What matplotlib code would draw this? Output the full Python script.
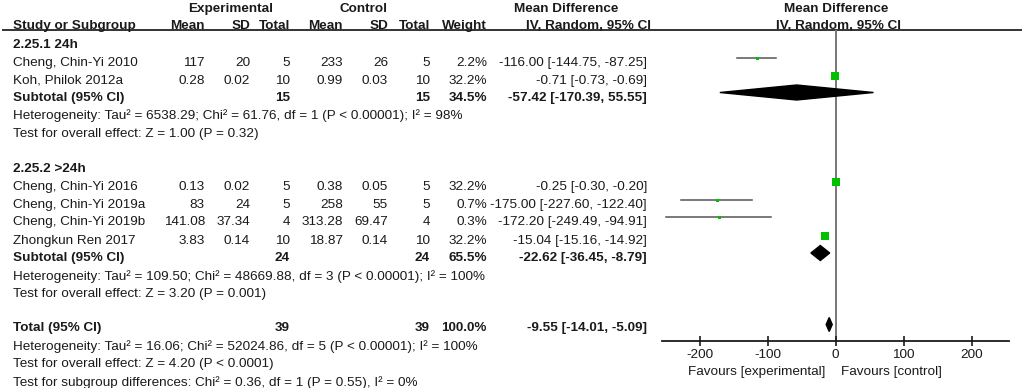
import matplotlib
matplotlib.use("Agg")
import matplotlib.pyplot as plt
from matplotlib.patches import Polygon

plt.rcParams["font.family"] = ["Liberation Sans", "DejaVu Sans"]

# ── data ──────────────────────────────────────────────────────────────────────
studies = ["Cheng, Chin-Yi 2010", "Koh, Philok 2012a",
           "Cheng, Chin-Yi 2016", "Cheng, Chin-Yi 2019a",
           "Cheng, Chin-Yi 2019b", "Zhongkun Ren 2017"]
exp_mean = ["117", "0.28", "0.13", "83", "141.08", "3.83"]
exp_sd = ["20", "0.02", "0.02", "24", "37.34", "0.14"]
exp_n = [5, 10, 5, 5, 4, 10]
ctl_mean = ["233", "0.99", "0.38", "258", "313.28", "18.87"]
ctl_sd = ["26", "0.03", "0.05", "55", "69.47", "0.14"]
ctl_n = [5, 10, 5, 5, 4, 10]
weight = [2.2, 32.2, 32.2, 0.7, 0.3, 32.2]
md = [-116.00, -0.71, -0.25, -175.00, -172.20, -15.04]
md_lo = [-144.75, -0.73, -0.30, -227.60, -249.49, -15.16]
md_hi = [-87.25, -0.69, -0.20, -122.40, -94.91, -14.92]

group_titles = ["2.25.1 24h", "2.25.2 >24h"]
sub_exp_n = [15, 24]
sub_ctl_n = [15, 24]
sub_weight = [34.5, 65.5]
sub_md = [-57.42, -22.62]
sub_lo = [-170.39, -36.45]
sub_hi = [55.55, -8.79]
sub_het = ["Heterogeneity: Tau² = 6538.29; Chi² = 61.76, df = 1 (P < 0.00001); I² = 98%",
           "Heterogeneity: Tau² = 109.50; Chi² = 48669.88, df = 3 (P < 0.00001); I² = 100%"]
sub_test = ["Test for overall effect: Z = 1.00 (P = 0.32)",
            "Test for overall effect: Z = 3.20 (P = 0.001)"]

tot_exp_n, tot_ctl_n, tot_weight = 39, 39, 100.0
tot_md, tot_lo, tot_hi = -9.55, -14.01, -5.09
tot_notes = ["Heterogeneity: Tau² = 16.06; Chi² = 52024.86, df = 5 (P < 0.00001); I² = 100%",
             "Test for overall effect: Z = 4.20 (P < 0.0001)",
             "Test for subgroup differences: Chi² = 0.36, df = 1 (P = 0.55), I² = 0%"]

xticks = [-200, -100, 0, 100, 200]
favours = ["Favours [experimental]", "Favours [control]"]

# ── layout (pixels) ───────────────────────────────────────────────────────────
W, H = 1024, 388
FS = 9.7
INK = "#1a1a1a"
GREEN = "#00c000"
COLS = [205, 250, 290, 343, 388, 430, 487]   # right edges of numeric columns
MD_X = 647
STUDY_Y = [61, 79, 185.5, 203, 220.5, 239.5]
TITLE_Y = [43, 167.5]
SUB_Y = [96, 256.5]
HET_Y = [114.5, 275]
TEST_Y = [132.5, 292.5]
TOT_Y = 326.5
TOT_NOTE_Y = [345.5, 362.5, 381]
MARK_DY = -3.5
AX_L, AX_R, AX_T, AX_B = 662.3, 1009.1, 30, 341


def fmt_ci(m, lo, hi):
    return f"{m:.2f} [{lo:.2f}, {hi:.2f}]"


fig = plt.figure(figsize=(W / 100, H / 100), dpi=100)
tab = fig.add_axes([0, 0, 1, 1])
tab.set_xlim(0, W)
tab.set_ylim(H, 0)
tab.axis("off")


def txt(x, y, s, ha="left", bold=False):
    tab.text(x, y + 4.6, s, ha=ha, va="baseline", fontsize=FS, color=INK,
             fontweight="bold" if bold else "normal")


# headers
for x, s in [(231, "Experimental"), (364, "Control"),
             (566, "Mean Difference"), (836, "Mean Difference")]:
    txt(x, 7, s, ha="center", bold=True)
txt(13, 24, "Study or Subgroup", bold=True)
for x, s in zip(COLS, ["Mean", "SD", "Total", "Mean", "SD", "Total", "Weight"]):
    txt(x, 24, s, ha="right", bold=True)
txt(588, 24, "IV, Random, 95% CI", ha="center", bold=True)
txt(838, 24, "IV, Random, 95% CI", ha="center", bold=True)
tab.plot([3, 1021], [30, 30], color="#333333", lw=1.4)

# forest axes, y in pixel units
fa = fig.add_axes([AX_L / W, 1 - AX_B / H, (AX_R - AX_L) / W, (AX_B - AX_T) / H])
fa.set_xlim(-255, 255)
fa.set_ylim(AX_B, AX_T)
fa.patch.set_alpha(0)
for side in ["top", "left", "right"]:
    fa.spines[side].set_visible(False)
fa.spines["bottom"].set_color(INK)
fa.spines["bottom"].set_linewidth(1.3)
fa.set_yticks([])
fa.set_xticks(xticks)
fa.set_xticklabels([str(t) for t in xticks])
fa.tick_params(axis="x", direction="inout", length=7, width=1.2,
               labelsize=FS, pad=2, colors=INK)
fa.axvline(0, color="#777777", lw=1.4, zorder=1)


def diamond(est, lo, hi, y, h):
    fa.add_patch(Polygon([(lo, y), (est, y - h / 2), (hi, y), (est, y + h / 2)],
                         closed=True, color="black", zorder=3))


# studies
for i, name in enumerate(studies):
    y = STUDY_Y[i]
    txt(13, y, name)
    vals = [exp_mean[i], exp_sd[i], str(exp_n[i]), ctl_mean[i], ctl_sd[i],
            str(ctl_n[i]), f"{weight[i]:.1f}%"]
    for x, s in zip(COLS, vals):
        txt(x, y, s, ha="right")
    txt(MD_X, y, fmt_ci(md[i], md_lo[i], md_hi[i]), ha="right")
    ym = y + MARK_DY
    fa.plot([md_lo[i], md_hi[i]], [ym, ym], color="#555555", lw=1.1, zorder=2)
    side = max(3.0, 8.0 * (weight[i] / 32.2) ** 0.5)
    fa.plot(md[i], ym, marker="s", ms=side * 0.72, color=GREEN, mew=0, zorder=4)

# subgroups
for g in range(2):
    txt(13, TITLE_Y[g], group_titles[g], bold=True)
    y = SUB_Y[g]
    txt(13, y, "Subtotal (95% CI)", bold=True)
    txt(COLS[2], y, str(sub_exp_n[g]), ha="right", bold=True)
    txt(COLS[5], y, str(sub_ctl_n[g]), ha="right", bold=True)
    txt(COLS[6], y, f"{sub_weight[g]:.1f}%", ha="right", bold=True)
    txt(MD_X, y, fmt_ci(sub_md[g], sub_lo[g], sub_hi[g]), ha="right", bold=True)
    diamond(sub_md[g], sub_lo[g], sub_hi[g], y + MARK_DY, 15)
    txt(13, HET_Y[g], sub_het[g])
    txt(13, TEST_Y[g], sub_test[g])

# total
txt(13, TOT_Y, "Total (95% CI)", bold=True)
txt(COLS[2], TOT_Y, str(tot_exp_n), ha="right", bold=True)
txt(COLS[5], TOT_Y, str(tot_ctl_n), ha="right", bold=True)
txt(COLS[6], TOT_Y, f"{tot_weight:.1f}%", ha="right", bold=True)
txt(MD_X, TOT_Y, fmt_ci(tot_md, tot_lo, tot_hi), ha="right", bold=True)
diamond(tot_md, tot_lo, tot_hi, TOT_Y - 2, 14)
for y, s in zip(TOT_NOTE_Y, tot_notes):
    txt(13, y, s)

# favours labels
txt(825.7, 370, favours[0], ha="right")
txt(841, 370, favours[1], ha="left")

fig.savefig("out.png", dpi=100)
